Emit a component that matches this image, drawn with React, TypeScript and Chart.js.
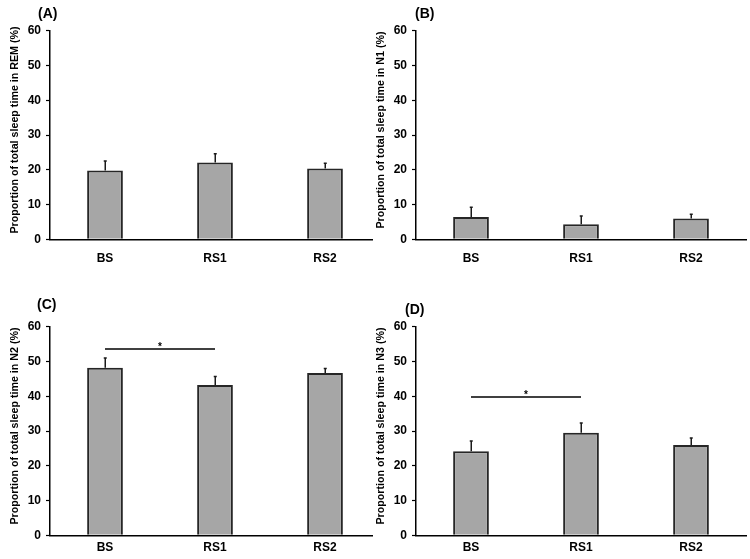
import React, { useEffect, useRef } from 'react';
import { Chart, registerables } from 'chart.js';

Chart.register(...registerables);

const categories = ['BS', 'RS1', 'RS2'];
const yMin = 0;
const yMax = 60;
const yStep = 10;

const remMeans = [19.8, 22.1, 20.4];
const remErrs = [2.7, 2.5, 1.5];
const n1Means = [6.4, 4.3, 6.0];
const n1Errs = [2.8, 2.4, 1.2];
const n2Means = [48.2, 43.2, 46.7];
const n2Errs = [2.8, 2.5, 1.3];
const n3Means = [24.2, 29.5, 26.0];
const n3Errs = [2.9, 2.8, 2.0];

const n2Sig = { from: 0, to: 1, value: 53.6, mark: '*' };
const n3Sig = { from: 0, to: 1, value: 39.8, mark: '*' };

const FONT = '"Liberation Sans", Arial, Helvetica, sans-serif';

type Sig = { from: number; to: number; value: number; mark: string };

type PanelProps = {
  label: string;
  yTitle: string;
  means: number[];
  errs: number[];
  sig?: Sig;
  left: number;
  top: number;
  clipWidth?: number;
  labelX: number;
  labelY: number;
  xPad: number;
};

const CW = 381;
const CH = 262;

function Panel(props: PanelProps) {
  const ref = useRef<HTMLCanvasElement | null>(null);
  useEffect(() => {
    if (!ref.current) return;
    const { means, errs, sig, label, labelX, labelY, yTitle } = props;
    const overlay = {
      id: 'overlay',
      afterDatasetsDraw(chart: any) {
        const { ctx } = chart;
        const y = chart.scales.y;
        const x = chart.scales.x;
        const meta = chart.getDatasetMeta(0);
        ctx.save();
        ctx.strokeStyle = '#1a1a1a';
        ctx.lineWidth = 1.5;
        errs.forEach((e, i) => {
          const bar = meta.data[i];
          const cx = Math.round(bar.x) + 0.25;
          const y0 = y.getPixelForValue(means[i]);
          const y1 = y.getPixelForValue(means[i] + e);
          ctx.beginPath();
          ctx.moveTo(cx, y0);
          ctx.lineTo(cx, y1);
          ctx.moveTo(cx - 1.5, y1);
          ctx.lineTo(cx + 1.5, y1);
          ctx.stroke();
        });
        if (sig) {
          const x0 = x.getPixelForValue(sig.from);
          const x1 = x.getPixelForValue(sig.to);
          const sy = y.getPixelForValue(sig.value);
          ctx.strokeStyle = '#000';
          ctx.lineWidth = 1.5;
          ctx.beginPath();
          ctx.moveTo(x0, sy);
          ctx.lineTo(x1, sy);
          ctx.stroke();
          ctx.fillStyle = '#000';
          ctx.font = `bold 10px ${FONT}`;
          ctx.textAlign = 'center';
          ctx.textBaseline = 'alphabetic';
          ctx.fillText(sig.mark, (x0 + x1) / 2, sy + 1);
        }
        ctx.fillStyle = '#000';
        ctx.font = `bold 14px ${FONT}`;
        ctx.textAlign = 'left';
        ctx.textBaseline = 'middle';
        ctx.fillText(label, labelX, labelY);

        const area = chart.chartArea;
        ctx.translate(15, (area.top + area.bottom) / 2 - 5);
        ctx.rotate(-Math.PI / 2);
        ctx.font = `bold 10.7px ${FONT}`;
        ctx.textAlign = 'center';
        ctx.textBaseline = 'middle';
        ctx.fillText(yTitle, 0, 0);
        ctx.restore();
      },
    };
    const chart = new Chart(ref.current, {
      type: 'bar',
      data: {
        labels: categories,
        datasets: [
          {
            data: means,
            backgroundColor: '#a6a6a6',
            borderColor: '#262626',
            borderWidth: 2,
            categoryPercentage: 1,
            barPercentage: 0.325,
          },
        ],
      },
      options: {
        responsive: false,
        animation: false,
        events: [],
        layout: { padding: { top: 30.7, left: 8.5, right: 1, bottom: 0 } },
        plugins: {
          legend: { display: false },
          tooltip: { enabled: false },
        },
        scales: {
          x: {
            offset: true,
            grid: { display: false, drawTicks: false },
            border: { display: true, color: '#000', width: 1.5 },
            ticks: {
              color: '#000',
              padding: props.xPad,
              font: { family: FONT, weight: 'bold', size: 12 },
            },
            afterFit: (s: any) => {
              s.height = CH - 239.3;
            },
          },
          y: {
            min: yMin,
            max: yMax,
            grid: {
              display: true,
              drawOnChartArea: false,
              drawTicks: true,
              tickLength: 4,
              tickColor: '#000',
              tickWidth: 1.2,
            },
            border: { display: true, color: '#000', width: 1.5 },
            ticks: {
              stepSize: yStep,
              color: '#000',
              padding: 5,
              font: { family: FONT, weight: 'bold', size: 12 },
            },
            title: { display: false },
            afterFit: (s: any) => {
              s.width = 41.5;
            },
          },
        },
      },
      plugins: [overlay],
    } as any);
    return () => chart.destroy();
  }, []);
  return (
    <div
      style={{
        position: 'absolute',
        left: props.left,
        top: props.top,
        width: props.clipWidth ?? CW,
        height: CH,
        overflow: 'hidden',
      }}
    >
      <canvas ref={ref} width={CW} height={CH} style={{ width: CW, height: CH, display: 'block' }} />
    </div>
  );
}

export default function App() {
  return (
    <div style={{ position: 'absolute', left: 0, top: 0, width: 750, height: 559, background: '#fff', overflow: 'hidden' }}>
      <Panel label="(A)" yTitle="Proportion of total sleep time in REM (%)" means={remMeans} errs={remErrs}
        left={0} top={0} clipWidth={373} labelX={38} labelY={14.5} xPad={12} />
      <Panel label="(B)" yTitle="Proportion of total sleep time in N1 (%)" means={n1Means} errs={n1Errs}
        left={366.3} top={0} labelX={49} labelY={14} xPad={12} />
      <Panel label="(C)" yTitle="Proportion of total sleep time in N2 (%)" means={n2Means} errs={n2Errs} sig={n2Sig}
        left={0} top={296.3} clipWidth={373} labelX={37} labelY={9.5} xPad={5.5} />
      <Panel label="(D)" yTitle="Proportion of total sleep time in N3 (%)" means={n3Means} errs={n3Errs} sig={n3Sig}
        left={366.3} top={296.3} labelX={39} labelY={14.2} xPad={5.5} />
    </div>
  );
}
